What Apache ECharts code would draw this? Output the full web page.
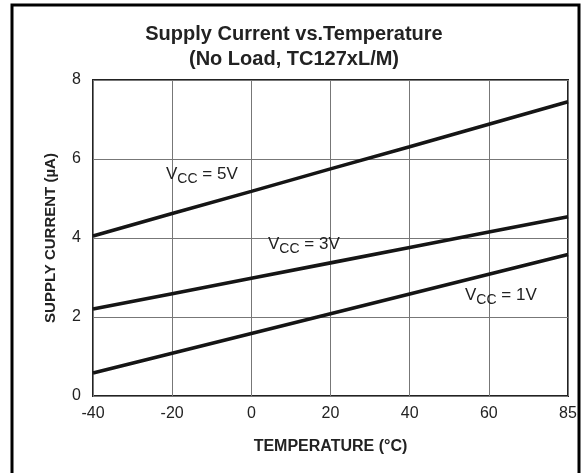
<!DOCTYPE html>
<html>
<head>
<meta charset="utf-8">
<script src="https://cdn.jsdelivr.net/npm/echarts@6/dist/echarts.min.js"></script>
<style>
  html, body { margin: 0; padding: 0; background: #fff; }
  #chart { width: 588px; height: 473px; }
</style>
</head>
<body>
<div id="chart"></div>
<script>
// temperature ticks (°C) - the sheet spaces them evenly, 85 included
const temps = ['-40', '-20', '0', '20', '40', '60', '85'];

// supply current (µA)
const vcc5 = [4.05, 4.62, 5.18, 5.75, 6.31, 6.88, 7.45];
const vcc3 = [2.2, 2.59, 2.98, 3.37, 3.76, 4.15, 4.54];
const vcc1 = [0.58, 1.08, 1.58, 2.08, 2.58, 3.08, 3.58];

const chart = echarts.init(document.getElementById('chart'));

const FONT = '"Liberation Sans", Arial, sans-serif';

// label like "VCC = 5V" with subscript CC
function vccLabel(x, y, volts) {
  return {
    type: 'text',
    left: x,
    top: y,
    z: 10,
    style: {
      text: 'V{s|CC} = ' + volts,
      fill: '#222',
      font: '17px ' + FONT,
      rich: {
        s: {
          fontSize: 14,
          fontFamily: FONT,
          fill: '#222',
          padding: [9, 0, 0, 0]
        }
      }
    }
  };
}

const lineStyle = { color: '#151515', width: 3.6 };

const option = {
  animation: false,
  title: {
    text: 'Supply Current vs.Temperature\n(No Load, TC127xL/M)',
    left: 'center',
    top: 17,
    textStyle: {
      fontFamily: FONT,
      fontSize: 20,
      fontWeight: 'bold',
      color: '#222',
      lineHeight: 25
    }
  },
  grid: {
    left: 93,
    right: 20,
    top: 80,
    bottom: 77,
    show: true,
    borderColor: '#222',
    borderWidth: 2
  },
  xAxis: {
    type: 'category',
    data: temps,
    boundaryGap: false,
    name: 'TEMPERATURE (°C)',
    nameLocation: 'middle',
    nameGap: 43,
    nameTextStyle: {
      fontFamily: FONT,
      fontSize: 16,
      fontWeight: 'bold',
      color: '#222'
    },
    axisLine: { show: false },
    axisTick: { show: false },
    axisLabel: {
      margin: 10,
      fontFamily: FONT,
      fontSize: 16,
      color: '#222'
    },
    splitLine: { show: true, lineStyle: { color: '#777', width: 1 } }
  },
  yAxis: {
    type: 'value',
    min: 0,
    max: 8,
    interval: 2,
    name: 'SUPPLY CURRENT (µA)',
    nameLocation: 'middle',
    nameRotate: 90,
    nameGap: 35,
    nameTextStyle: {
      fontFamily: FONT,
      fontSize: 15,
      fontWeight: 'bold',
      color: '#222'
    },
    axisLine: { show: false },
    axisTick: { show: false },
    axisLabel: {
      margin: 12,
      fontFamily: FONT,
      fontSize: 16,
      color: '#222'
    },
    splitLine: { show: true, lineStyle: { color: '#777', width: 1 } }
  },
  series: [
    { name: 'VCC = 5V', type: 'line', data: vcc5, showSymbol: false, lineStyle: lineStyle },
    { name: 'VCC = 3V', type: 'line', data: vcc3, showSymbol: false, lineStyle: lineStyle },
    { name: 'VCC = 1V', type: 'line', data: vcc1, showSymbol: false, lineStyle: lineStyle }
  ],
  graphic: [
    {
      type: 'rect',
      shape: { x: 12, y: 5, width: 567, height: 490 },
      style: { fill: 'none', stroke: '#000', lineWidth: 3 },
      silent: true
    },
    vccLabel(166, 166, '5V'),
    vccLabel(268, 236, '3V'),
    vccLabel(465, 287, '1V')
  ]
};

chart.setOption(option);
</script>
</body>
</html>
